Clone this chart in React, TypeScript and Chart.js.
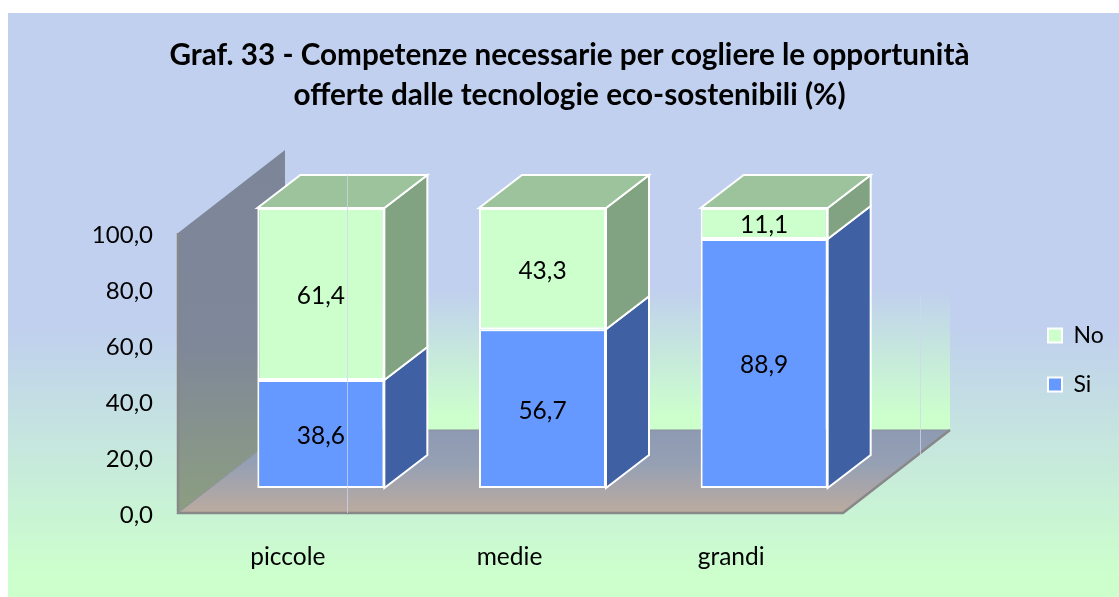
import React, { useEffect, useRef } from "react";
import { Chart, registerables } from "chart.js";

Chart.register(...registerables);

const categories = ["piccole", "medie", "grandi"];
const siValues = [38.6, 56.7, 88.9];
const noValues = [61.4, 43.3, 11.1];
const titleLines = [
  "Graf. 33 - Competenze necessarie per cogliere le opportunità",
  "offerte dalle tecnologie eco-sostenibili (%)",
];

const WIDTH = 1119;
const HEIGHT = 597;
const FONT = "Lato, Carlito, 'Open Sans', sans-serif";
const fmt = (v: number) => v.toFixed(1).replace(".", ",");

// 3D projection constants
const FLOOR_DX = 107;
const FLOOR_DY = -83;
const BAR_SHIFT_X = 32;
const BAR_SHIFT_Y = -25;
const BAR_DX = 43;
const BAR_DY = -33;

const sideColors: Record<string, { side: string; top: string }> = {
  Si: { side: "#3F60A3", top: "#5C7FC4" },
  No: { side: "#82A381", top: "#9DC39C" },
};

function poly(ctx: CanvasRenderingContext2D, pts: number[][], fill: string | CanvasGradient, stroke?: string, lw = 2) {
  ctx.beginPath();
  pts.forEach((p, i) => (i ? ctx.lineTo(p[0], p[1]) : ctx.moveTo(p[0], p[1])));
  ctx.closePath();
  ctx.fillStyle = fill;
  ctx.fill();
  if (stroke) {
    ctx.strokeStyle = stroke;
    ctx.lineWidth = lw;
    ctx.stroke();
  }
}

const scenePlugin = {
  id: "scene3d",
  afterLayout(chart: any) {
    const title = chart.titleBlock;
    const legend = chart.legend;
    if (title) {
      title.left = 20;
      title.right = WIDTH;
      title.top = 35;
      title.bottom = 115;
    }
    if (legend) {
      legend.left = 1022;
      legend.right = WIDTH;
      legend.top = 298;
      legend.bottom = 500;
    }
  },
  beforeDraw(chart: any) {
    const ctx: CanvasRenderingContext2D = chart.ctx;
    const { left, right, top, bottom } = chart.chartArea;
    ctx.save();
    ctx.fillStyle = "#ffffff";
    ctx.fillRect(0, 0, WIDTH, HEIGHT);
    // page background
    const bg = ctx.createLinearGradient(0, 13, 0, HEIGHT);
    bg.addColorStop(0, "#C0D0EE");
    bg.addColorStop(0.54, "#C0D0EE");
    bg.addColorStop(0.96, "#CCFFCC");
    bg.addColorStop(1, "#CCFFCC");
    ctx.fillStyle = bg;
    ctx.fillRect(8, 13, WIDTH - 8, HEIGHT - 13);

    const wallTop = top + FLOOR_DY;
    const floorBack = bottom + FLOOR_DY;
    // back wall
    const back = ctx.createLinearGradient(0, wallTop, 0, floorBack);
    back.addColorStop(0, "#C0D0EE");
    back.addColorStop(0.5, "#C0D0EE");
    back.addColorStop(0.95, "#CCFFCC");
    back.addColorStop(1, "#CCFFCC");
    ctx.fillStyle = back;
    ctx.fillRect(left + FLOOR_DX, wallTop, right - left, bottom - top);

    // side wall
    const wall = ctx.createLinearGradient(0, wallTop, 0, bottom);
    wall.addColorStop(0, "#7D8599");
    wall.addColorStop(0.55, "#7F8899");
    wall.addColorStop(1, "#8C9E80");
    poly(ctx, [
      [left, top],
      [left + FLOOR_DX, wallTop],
      [left + FLOOR_DX, floorBack],
      [left, bottom],
    ], wall);

    // floor
    const floor = ctx.createLinearGradient(0, floorBack, 0, bottom);
    floor.addColorStop(0, "#8E9AB3");
    floor.addColorStop(0.4, "#95A0B4");
    floor.addColorStop(1, "#BBAB9F");
    poly(ctx, [
      [left, bottom],
      [left + FLOOR_DX, floorBack],
      [right + FLOOR_DX, floorBack],
      [right, bottom],
    ], floor);

    // edges
    ctx.strokeStyle = "#888888";
    ctx.lineWidth = 2.5;
    ctx.beginPath();
    ctx.moveTo(left, top);
    ctx.lineTo(left, bottom);
    ctx.lineTo(right, bottom);
    ctx.lineTo(right + FLOOR_DX, floorBack);
    ctx.stroke();
    ctx.lineWidth = 1;
    ctx.strokeStyle = "#8A8F9A";
    ctx.beginPath();
    ctx.moveTo(left, bottom);
    ctx.lineTo(left + FLOOR_DX, floorBack);
    ctx.lineTo(right + FLOOR_DX, floorBack);
    ctx.stroke();
    ctx.restore();
  },
  beforeDatasetsDraw(chart: any) {
    const ctx: CanvasRenderingContext2D = chart.ctx;
    ctx.save();
    ctx.translate(BAR_SHIFT_X, BAR_SHIFT_Y);
    const n = chart.data.labels.length;
    for (let i = 0; i < n; i++) {
      chart.data.datasets.forEach((ds: any, d: number) => {
        const el = chart.getDatasetMeta(d).data[i];
        const colors = sideColors[ds.label];
        const half = el.width / 2;
        const r = el.x + half;
        const l = el.x - half;
        const t = el.y;
        const b = el.base;
        poly(ctx, [
          [r, t],
          [r + BAR_DX, t + BAR_DY],
          [r + BAR_DX, b + BAR_DY],
          [r, b],
        ], colors.side, "#ffffff", 2);
        if (d === chart.data.datasets.length - 1) {
          poly(ctx, [
            [l, t],
            [l + BAR_DX, t + BAR_DY],
            [r + BAR_DX, t + BAR_DY],
            [r, t],
          ], colors.top, "#ffffff", 2);
        }
      });
    }
  },
  afterDatasetsDraw(chart: any) {
    const ctx: CanvasRenderingContext2D = chart.ctx;
    ctx.restore();
    const { left, right, bottom, top } = chart.chartArea;
    ctx.save();
    // thin seams of the reference picture
    ctx.strokeStyle = "rgba(205,215,240,0.75)";
    ctx.lineWidth = 1;
    ctx.beginPath();
    ctx.moveTo(left + 169.5, top - 58);
    ctx.lineTo(left + 169.5, bottom);
    ctx.moveTo(right + 77.5, top + 62);
    ctx.lineTo(right + 77.5, bottom - 58);
    ctx.stroke();
    // value labels
    ctx.fillStyle = "#000000";
    ctx.font = `24.5px ${FONT}`;
    ctx.textAlign = "center";
    ctx.textBaseline = "middle";
    chart.data.datasets.forEach((ds: any, d: number) => {
      chart.getDatasetMeta(d).data.forEach((el: any, i: number) => {
        ctx.fillText(fmt(ds.data[i]), el.x + BAR_SHIFT_X, (el.y + el.base) / 2 + BAR_SHIFT_Y + 2);
      });
    });
    ctx.restore();
  },
};

export default function App() {
  const ref = useRef<HTMLCanvasElement | null>(null);
  useEffect(() => {
    if (!ref.current) return;
    const chart = new Chart(ref.current, {
      type: "bar",
      data: {
        labels: categories,
        datasets: [
          {
            label: "Si",
            data: siValues,
            backgroundColor: "#6699FF",
            borderColor: "#ffffff",
            borderWidth: 2,
            borderSkipped: false,
            barPercentage: 0.573,
            categoryPercentage: 1,
          },
          {
            label: "No",
            data: noValues,
            backgroundColor: "#CCFFCC",
            borderColor: "#ffffff",
            borderWidth: 2,
            borderSkipped: false,
            barPercentage: 0.573,
            categoryPercentage: 1,
          },
        ],
      },
      options: {
        animation: false,
        responsive: false,
        layout: { padding: { left: 0, right: WIDTH - 843, top: 153, bottom: 0 } },
        plugins: {
          tooltip: { enabled: false },
          title: {
            display: true,
            text: titleLines,
            color: "#000000",
            padding: 0,
            font: { family: FONT, size: 29.7, weight: "bold", lineHeight: 40 / 29.7 },
          },
          legend: {
            display: true,
            position: "chartArea",
            align: "start",
            reverse: true,
            labels: {
              boxWidth: 14,
              boxHeight: 14,
              padding: 26,
              color: "#000000",
              font: { family: FONT, size: 23 },
            },
          },
        },
        scales: {
          x: {
            stacked: true,
            afterFit: (s: any) => { s.height = HEIGHT - 513; },
            grid: { display: false, drawTicks: false },
            border: { display: false },
            ticks: { color: "#000000", padding: 29, labelOffset: -1, font: { family: FONT, size: 24.5 } },
          },
          y: {
            stacked: true,
            min: 0,
            max: 100,
            afterFit: (s: any) => { s.width = 178; },
            grid: { display: false, drawTicks: false },
            border: { display: false },
            ticks: {
              stepSize: 20,
              color: "#000000",
              padding: 25,
              labelOffset: 2,
              font: { family: FONT, size: 24 },
              callback: (v: any) => fmt(Number(v)),
            },
          },
        },
      },
      plugins: [scenePlugin],
    } as any);
    return () => chart.destroy();
  }, []);
  return (
    <div style={{ position: "absolute", left: 0, top: 0, width: WIDTH, height: HEIGHT }}>
      <canvas ref={ref} width={WIDTH} height={HEIGHT} style={{ display: "block" }} />
    </div>
  );
}
